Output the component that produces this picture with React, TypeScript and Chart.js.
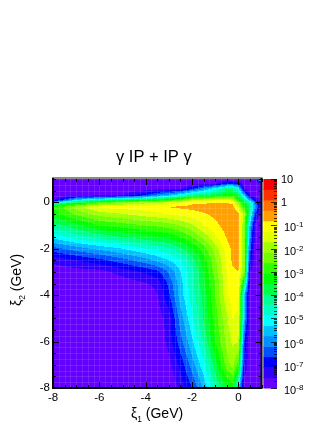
import React, { useEffect, useRef } from "react";
import { Chart, registerables } from "chart.js";

Chart.register(...registerables);

const titleParts = ["γ", " IP + IP ", "γ"];
const xTitle = ["ξ", "1", " (GeV)"];
const yTitle = ["ξ", "2", " (GeV)"];

const xMajorTicks = [-8, -6, -4, -2, 0];
const yMajorTicks = [-8, -6, -4, -2, 0];
const xAllTicks = [-8, -7.5, -7, -6.5, -6, -5.5, -5, -4.5, -4, -3.5, -3, -2.5, -2, -1.5, -1, -0.5, 0, 0.5, 1];
const yAllTicks = xAllTicks;

const palette = [
  "#6400ff", "#3000ff", "#0000ff", "#0050ff", "#0090ff", "#00c0ff", "#00ffff", "#00ffc8", "#00ff90", "#00ff40",
  "#00ff00", "#30ff00", "#70ff00", "#a0ff00", "#e0ff00", "#ffff00", "#ffa000", "#ff7000", "#ff3000", "#ff0000",
];
const zMin = 1e-8;
const zMax = 10;

// ξ1 columns and ξ2 rows of the sampled surface
const xi1 = [-8, -7, -6, -5, -4, -3.5, -3, -2.5, -2, -1.5, -1, -0.5, -0.25, 0, 0.25, 0.5, 0.75, 1];
const xi2 = [1, 0.8, 0.6, 0.3, 0.1, 0, -0.2, -0.5, -1, -1.5, -2, -2.5, -3, -3.5, -4, -5, -6, -7, -8];

const row1p0 = [0, 0, 0, 0, 0, 0, 0, 0, 0, 0, 0, 0, 0, 0, 0, 0, 0.5, 9];
const row0p8 = [0, 0, 0, 0, 0, 0, 0, 0.1, 0.4, 0.8, 1, 3, 3, 2, 0.3, 0, 0, 0.3];
const row0p6 = [0, 0, 0, 0.1, 0.2, 0.3, 0.5, 0.6, 2.5, 4.5, 6.5, 8.5, 8.5, 6.5, 0.8, 0.2, 0, 0];
const row0p3 = [0.2, 0.5, 0.7, 1, 3, 4.5, 5.5, 7, 8.5, 9, 9.5, 10.5, 10.5, 9.5, 5.5, 1, 0.2, 0];
const row0p1 = [0.6, 6, 8, 9, 9.5, 10, 11, 12, 14, 14.5, 14.8, 15.2, 14.6, 11, 8.5, 5, 1.8, 0.2];
const row0p0 = [6, 9, 11, 12.5, 13.5, 13.7, 14, 14.7, 15.7, 15.8, 15.8, 15.9, 15.7, 12.5, 10, 7.5, 3.5, 0.4];
const rowM0p2 = [11, 13.5, 15.3, 15.5, 15.5, 15.7, 16.05, 16.2, 16.3, 16.5, 16.6, 16.5, 16.4, 14.8, 11, 8.5, 4.5, 0.3];
const rowM0p5 = [10.5, 12.3, 13.5, 14, 14.6, 14.8, 15.1, 15.4, 15.6, 15.9, 16.3, 16.7, 16.8, 16.2, 13.5, 8, 2.5, 0.1];
const rowM1p0 = [8.5, 9.7, 11, 11.5, 12, 12.2, 12.5, 13, 13.8, 15, 15.7, 16.5, 16.8, 16.3, 13, 5.5, 0.4, 0];
const rowM1p5 = [6.3, 7.5, 8.3, 9, 9.6, 10, 10.3, 11, 12, 13.3, 14.8, 16.1, 16.7, 16.2, 13, 4.5, 0.2, 0];
const rowM2p0 = [3.6, 4.5, 5.3, 6, 7, 7.3, 7.8, 8.8, 10, 11.5, 13.5, 15.5, 16.2, 16.3, 13, 3.5, 0.2, 0];
const rowM2p5 = [1.3, 2, 2.7, 3.6, 4.6, 5.3, 6, 6.8, 8.5, 10.5, 12.8, 15.2, 16.2, 16.4, 13, 2.5, 0.1, 0];
const rowM3p0 = [0.3, 0.5, 0.6, 1.4, 2.2, 2.7, 4.1, 6, 7.6, 10, 12.5, 15, 15.8, 16, 13, 1, 0.1, 0];
const rowM3p5 = [0, 0, 0, 0.4, 0.9, 1.4, 3.3, 5.6, 7.7, 9.7, 12, 14.8, 15.7, 15.4, 9.5, 0.5, 0, 0];
const rowM4p0 = [0, 0, 0, 0, 0.2, 0.9, 2.8, 5.5, 7.5, 9.3, 12, 14.8, 15.5, 15.3, 5.5, 0.3, 0, 0];
const rowM5p0 = [0, 0, 0, 0, 0, 0.4, 1.5, 4.5, 6.8, 9.1, 11.5, 13.8, 15, 14.8, 5.5, 0.2, 0, 0];
const rowM6p0 = [0, 0, 0, 0, 0, 0, 1.4, 3.6, 5.8, 8.1, 11, 13.3, 14.2, 14.1, 3, 0.1, 0, 0];
const rowM7p0 = [0, 0, 0, 0, 0, 0, 0.6, 2.3, 4.5, 6.7, 9.5, 12.5, 13.4, 11.5, 2, 0.1, 0, 0];
const rowM8p0 = [0, 0, 0, 0, 0, 0, 0, 1.3, 3, 5.2, 8, 9.8, 10.3, 6.5, 0.2, 0, 0, 0];

const bandTable = [
  row1p0, row0p8, row0p6, row0p3, row0p1, row0p0, rowM0p2, rowM0p5, rowM1p0, rowM1p5,
  rowM2p0, rowM2p5, rowM3p0, rowM3p5, rowM4p0, rowM5p0, rowM6p0, rowM7p0, rowM8p0,
];

const FONT = '"Liberation Sans", Arial, sans-serif';
const X_END = 1;
const BAR_START = 1.08;

function hexToRgb(h: string) {
  return [parseInt(h.slice(1, 3), 16), parseInt(h.slice(3, 5), 16), parseInt(h.slice(5, 7), 16)];
}

function findCell(arr: number[], v: number) {
  const asc = arr[0] < arr[arr.length - 1];
  for (let i = 0; i < arr.length - 1; i++) {
    const a = arr[i];
    const b = arr[i + 1];
    if (asc ? v <= b : v >= b) return { i, t: Math.max(0, Math.min(1, (v - a) / (b - a))) };
  }
  return { i: arr.length - 2, t: 1 };
}

function drawRun(ctx: CanvasRenderingContext2D, parts: string[], x: number, y: number, size: number) {
  ctx.font = `${size}px ${FONT}`;
  ctx.fillText(parts[0], x, y);
  let cx = x + ctx.measureText(parts[0]).width;
  ctx.font = `${size * 0.6}px ${FONT}`;
  ctx.fillText(parts[1], cx, y + size * 0.28);
  cx += ctx.measureText(parts[1]).width;
  ctx.font = `${size}px ${FONT}`;
  ctx.fillText(parts[2], cx, y);
}

const contourPlugin = {
  id: "contour",
  beforeDatasetsDraw(chart: any) {
    const { ctx, scales } = chart;
    const xs = scales.x;
    const ys = scales.y;
    const zs = scales.z;
    const left = Math.round(xs.getPixelForValue(-8));
    const right = Math.round(xs.getPixelForValue(X_END));
    const top = Math.round(ys.getPixelForValue(1));
    const bottom = Math.round(ys.getPixelForValue(-8));
    const w = right - left;
    const h = bottom - top;
    const off = document.createElement("canvas");
    off.width = w;
    off.height = h;
    const octx = off.getContext("2d")!;
    const img = octx.createImageData(w, h);
    const rgb = palette.map(hexToRgb);
    for (let py = 0; py < h; py++) {
      const c = findCell(xi2, ys.getValueForPixel(top + py + 0.5));
      for (let px = 0; px < w; px++) {
        const d = findCell(xi1, xs.getValueForPixel(left + px + 0.5));
        const r0 = bandTable[c.i];
        const r1 = bandTable[c.i + 1];
        const v0 = r0[d.i] + (r0[d.i + 1] - r0[d.i]) * d.t;
        const v1 = r1[d.i] + (r1[d.i + 1] - r1[d.i]) * d.t;
        const v = v0 + (v1 - v0) * c.t;
        const col = rgb[Math.max(0, Math.min(palette.length - 1, Math.floor(v)))];
        const k = (py * w + px) * 4;
        img.data[k] = col[0];
        img.data[k + 1] = col[1];
        img.data[k + 2] = col[2];
        img.data[k + 3] = 255;
      }
    }
    octx.putImageData(img, 0, 0);
    ctx.save();
    ctx.filter = "blur(0.45px)";
    ctx.drawImage(off, left, top);
    ctx.filter = "none";

    // faint seams
    ctx.strokeStyle = "rgba(255,255,255,0.11)";
    ctx.lineWidth = 1;
    for (const v of xAllTicks) {
      for (const u of [v, v + 0.25]) {
        if (u > 1) continue;
        const p = Math.round(xs.getPixelForValue(u)) + 0.5;
        ctx.beginPath();
        ctx.moveTo(p, top);
        ctx.lineTo(p, bottom);
        ctx.stroke();
        const q = Math.round(ys.getPixelForValue(u)) + 0.5;
        ctx.beginPath();
        ctx.moveTo(left, q);
        ctx.lineTo(right, q);
        ctx.stroke();
      }
    }

    // colour bar, one rectangle per contour band
    const barL = xs.getPixelForValue(BAR_START);
    const barR = xs.getPixelForValue(xs.max);
    const step = Math.log10(zMax / zMin) / palette.length;
    palette.forEach((c, i) => {
      const y0 = zs.getPixelForValue(zMin * Math.pow(10, step * i));
      const y1 = zs.getPixelForValue(zMin * Math.pow(10, step * (i + 1)));
      ctx.fillStyle = c;
      ctx.fillRect(barL, y1, barR - barL, y0 - y1 + 0.5);
    });
    ctx.restore();
  },
  afterDatasetsDraw(chart: any) {
    const { ctx, scales } = chart;
    const xs = scales.x;
    const ys = scales.y;
    const zs = scales.z;
    const left = xs.getPixelForValue(-8);
    const right = xs.getPixelForValue(X_END);
    const top = ys.getPixelForValue(1);
    const bottom = ys.getPixelForValue(-8);
    ctx.save();

    // frame
    ctx.lineWidth = 2;
    ctx.strokeStyle = "#8a8a8a";
    ctx.beginPath();
    ctx.moveTo(left - 1, top - 1);
    ctx.lineTo(right + 1, top - 1);
    ctx.stroke();
    ctx.strokeStyle = "#000";
    ctx.beginPath();
    ctx.moveTo(left, top - 1);
    ctx.lineTo(left, bottom);
    ctx.lineTo(right, bottom);
    ctx.lineTo(right, top - 1);
    ctx.stroke();

    // inward ticks on all four sides
    ctx.lineWidth = 1;
    ctx.strokeStyle = "#000";
    for (const v of xAllTicks) {
      const p = Math.round(xs.getPixelForValue(v)) + 0.5;
      const len = xMajorTicks.includes(v) ? 6 : 3;
      ctx.beginPath();
      ctx.moveTo(p, bottom);
      ctx.lineTo(p, bottom - len);
      ctx.moveTo(p, top);
      ctx.lineTo(p, top + len);
      ctx.stroke();
    }
    for (const v of yAllTicks) {
      const p = Math.round(ys.getPixelForValue(v)) + 0.5;
      const len = yMajorTicks.includes(v) ? 6 : 3;
      ctx.beginPath();
      ctx.moveTo(left, p);
      ctx.lineTo(left + len, p);
      ctx.moveTo(right, p);
      ctx.lineTo(right - len, p);
      ctx.stroke();
    }

    // colour bar ticks and labels from the log scale
    const barR = xs.getPixelForValue(xs.max);
    ctx.fillStyle = "#000";
    ctx.textBaseline = "alphabetic";
    ctx.textAlign = "left";
    for (const t of zs.ticks) {
      const exp = Math.log10(t.value);
      const isMajor = Math.abs(exp - Math.round(exp)) < 1e-6;
      const p = Math.round(zs.getPixelForValue(t.value)) + 0.5;
      ctx.strokeStyle = "rgba(0,0,0,0.75)";
      ctx.beginPath();
      ctx.moveTo(barR, p);
      ctx.lineTo(barR - (isMajor ? 6 : 3), p);
      ctx.stroke();
      if (isMajor) {
        const e = Math.round(exp);
        ctx.font = `11px ${FONT}`;
        if (e === 0 || e === 1) {
          ctx.fillText(e === 0 ? "1" : "10", barR + 4, p + 3.5);
        } else {
          ctx.fillText("10", barR + 7, p + 5.5);
          const w = ctx.measureText("10").width;
          ctx.font = `8px ${FONT}`;
          ctx.fillText(String(e), barR + 7 + w, p + 1);
        }
      }
    }

    // titles
    ctx.font = `16.5px ${FONT}`;
    ctx.fillText(titleParts.join(""), 116, 162);
    drawRun(ctx, xTitle, 131, 418, 14);
    ctx.translate(21, 306);
    ctx.rotate(-Math.PI / 2);
    drawRun(ctx, yTitle, 0, 0, 14);
    ctx.restore();
  },
};

export default function App() {
  const ref = useRef<HTMLCanvasElement>(null);
  useEffect(() => {
    document.body.style.margin = "0";
    document.body.style.background = "#fff";
    const points: { x: number; y: number; band: number }[] = [];
    xi2.forEach((y, r) => xi1.forEach((x, c) => points.push({ x, y, band: bandTable[r][c] })));
    const chart = new Chart(ref.current!, {
      type: "scatter",
      data: {
        datasets: [
          {
            label: "γ IP + IP γ",
            data: points,
            pointRadius: 0,
            pointHoverRadius: 0,
            showLine: false,
            xAxisID: "x",
            yAxisID: "y",
          },
        ],
      },
      options: {
        responsive: false,
        animation: false,
        events: [],
        layout: { padding: { top: 179, left: 0, right: 0, bottom: 0 } },
        plugins: { legend: { display: false }, tooltip: { enabled: false }, title: { display: false } },
        scales: {
          x: {
            type: "linear",
            min: -8,
            max: 1.668,
            grid: { display: false, drawTicks: false, tickLength: 0 },
            border: { display: false },
            afterBuildTicks: (s: any) => {
              s.ticks = xAllTicks.map((value) => ({ value }));
            },
            afterFit: (s: any) => {
              s.height = 42;
            },
            ticks: {
              autoSkip: false,
              maxRotation: 0,
              color: "#000",
              padding: 3,
              font: { family: FONT, size: 11.5 },
              callback: (v: any) => (xMajorTicks.includes(v) ? String(v) : ""),
            },
          },
          y: {
            type: "linear",
            position: "left",
            min: -8,
            max: 1,
            grid: { display: false, drawTicks: false, tickLength: 0 },
            border: { display: false },
            afterBuildTicks: (s: any) => {
              s.ticks = yAllTicks.map((value) => ({ value }));
            },
            afterFit: (s: any) => {
              s.width = 53;
            },
            ticks: {
              autoSkip: false,
              color: "#000",
              padding: 3,
              font: { family: FONT, size: 11.5 },
              callback: (v: any) => (yMajorTicks.includes(v) ? String(v) : ""),
            },
          },
          z: {
            type: "logarithmic",
            position: "right",
            min: zMin,
            max: zMax,
            grid: { display: false },
            border: { display: false },
            ticks: { display: false },
            afterFit: (s: any) => {
              s.width = 55;
            },
          },
        },
      },
      plugins: [contourPlugin],
    } as any);
    return () => chart.destroy();
  }, []);
  return <canvas ref={ref} width={332} height={430} style={{ display: "block" }} />;
}
